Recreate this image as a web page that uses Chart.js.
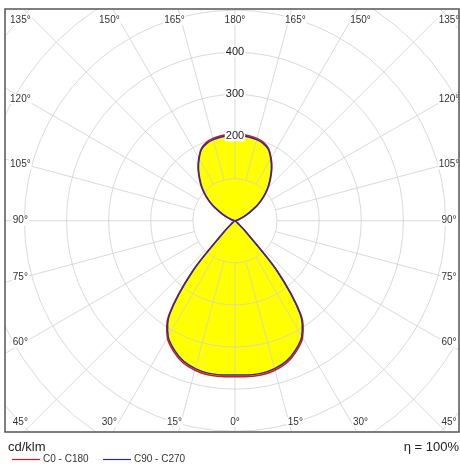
<!DOCTYPE html>
<html lang="en">
  <head>
    <meta charset="UTF-8" />
    <title>Luminous intensity distribution</title>
    <script src="https://cdn.jsdelivr.net/npm/chart.js"></script>
    <style>
      html, body { margin: 0; padding: 0; background: #fff; }
      .wrap { position: relative; width: 460px; height: 468px; }
    </style>
  </head>
  <body>
    <div class="wrap"><canvas id="ldc"></canvas></div>

    <script>
      // gamma angles (0 = straight down, 180 = straight up)
      var angles = [0, 5, 10, 15, 20, 25, 30, 35, 40, 45, 50, 55, 60, 65, 70, 75, 80, 85, 90,
                    95, 100, 105, 110, 115, 120, 125, 130, 135, 140, 145, 150, 155, 160, 165, 170, 175, 180];
      // cd/klm
      var c0c180 = [370, 371, 371, 367, 359, 343, 321, 274, 158, 34, 8, 4, 3, 2, 2, 2, 1, 1, 0,
                    1, 3, 6, 12, 25, 42, 67, 90, 112, 132, 153, 172, 189, 198, 202, 204, 205, 206];
      var c90c270 = [366, 367, 367, 363, 355, 339, 317, 270, 155, 32, 8, 4, 3, 2, 2, 2, 1, 1, 0,
                     1, 3, 6, 12, 24, 41, 66, 88, 110, 130, 151, 170, 187, 195, 199, 201, 202, 203];
      var seriesNames = ["C0 - C180", "C90 - C270"];
      var ringValues = [100, 200, 300, 400, 500, 600, 700, 800];
      var ringLabels = [200, 300, 400];
      var spokeAngles = [0, 15, 30, 45, 60, 75, 90, 105, 120, 135, 150, 165, 180];
      var unitText = "cd/klm";
      var efficiency = 100;

      // polar curve -> closed x/y outline (right half then mirrored left half)
      function outline(values) {
        var pts = [];
        for (var i = 0; i < angles.length; i++) {
          var a = angles[i] * Math.PI / 180;
          pts.push({ x: values[i] * Math.sin(a), y: -values[i] * Math.cos(a) });
        }
        for (var j = angles.length - 2; j >= 0; j--) {
          var b = angles[j] * Math.PI / 180;
          pts.push({ x: -values[j] * Math.sin(b), y: -values[j] * Math.cos(b) });
        }
        return pts;
      }

      var gridPlugin = {
        id: "polarGrid",
        afterDatasetDraw: function (chart, args) {
          if (args.index !== 2) return;
          var ctx = chart.ctx, ca = chart.chartArea;
          var xs = chart.scales.x, ys = chart.scales.y;
          var cx = xs.getPixelForValue(0), cy = ys.getPixelForValue(0);
          var k = xs.getPixelForValue(100) - cx;
          ctx.save();
          ctx.beginPath();
          ctx.rect(ca.left, ca.top, ca.right - ca.left, ca.bottom - ca.top);
          ctx.clip();
          ctx.strokeStyle = "rgba(205,205,205,0.75)";
          ctx.lineWidth = 1;
          ringValues.forEach(function (v) {
            ctx.beginPath();
            ctx.arc(cx, cy, v / 100 * k, 0, Math.PI * 2);
            ctx.stroke();
          });
          for (var a = 0; a < 360; a += 15) {
            var t = a * Math.PI / 180;
            var dx = Math.sin(t), dy = Math.cos(t);
            ctx.beginPath();
            ctx.moveTo(cx + dx * k, cy + dy * k);
            ctx.lineTo(cx + dx * k * 10, cy + dy * k * 10);
            ctx.stroke();
          }
          ctx.restore();
        },
        afterDraw: function (chart) {
          var ctx = chart.ctx, ca = chart.chartArea;
          var xs = chart.scales.x, ys = chart.scales.y;
          var cx = xs.getPixelForValue(0);
          ctx.save();
          ctx.textAlign = "center";
          ctx.textBaseline = "middle";

          // ring values along the 180° line
          ctx.font = '11px "Liberation Sans", Arial, sans-serif';
          ringLabels.forEach(function (v) {
            var py = ys.getPixelForValue(v);
            var w = ctx.measureText(String(v)).width + 2;
            ctx.fillStyle = "#fff";
            ctx.fillRect(cx - w / 2, py - 5, w, 10);
            ctx.fillStyle = "#222";
            ctx.fillText(String(v), cx, py);
          });

          // angle labels where the spokes meet the 500 square
          ctx.font = '10px "Liberation Sans", Arial, sans-serif';
          [1, -1].forEach(function (side) {
            spokeAngles.forEach(function (g) {
              if (side === -1 && (g === 0 || g === 180)) return;
              var t = g * Math.PI / 180;
              var dx = side * Math.sin(t), dy = -Math.cos(t);
              if (Math.abs(dx) < 1e-9) dx = 0;
              var s = 500 / Math.max(Math.abs(dx), Math.abs(dy));
              var px = xs.getPixelForValue(s * dx) + 4 * Math.sign(dx);
              var py = ys.getPixelForValue(s * dy);
              px = Math.min(Math.max(px, ca.left + 15), ca.right - 10);
              py = Math.min(Math.max(py, ca.top + 11), ca.bottom - 10);
              var txt = g + "\u00b0";
              var w = ctx.measureText(txt).width + 2;
              ctx.fillStyle = "#fff";
              ctx.fillRect(px - w / 2, py - 5, w, 10);
              ctx.fillStyle = "#333";
              ctx.fillText(txt, px, py);
            });
          });

          // frame
          ctx.strokeStyle = "#555";
          ctx.lineWidth = 1.5;
          ctx.strokeRect(ca.left, ca.top, ca.right - ca.left, ca.bottom - ca.top);

          // unit, efficiency and legend under the frame
          ctx.textAlign = "left";
          ctx.fillStyle = "#222";
          ctx.font = '13px "Liberation Sans", Arial, sans-serif';
          ctx.fillText(unitText, ca.left + 3, ca.bottom + 15);
          ctx.textAlign = "right";
          ctx.fillText("\u03b7 = " + efficiency + "%", ca.right, ca.bottom + 15);

          ctx.textAlign = "left";
          ctx.font = '10px "Liberation Sans", Arial, sans-serif';
          var ly = ca.bottom + 27.5;
          var items = [
            { name: seriesNames[0], color: chart.data.datasets[1].borderColor, x: ca.left + 7 },
            { name: seriesNames[1], color: chart.data.datasets[0].borderColor, x: ca.left + 98 }
          ];
          items.forEach(function (it) {
            ctx.strokeStyle = it.color;
            ctx.lineWidth = 1.2;
            ctx.beginPath();
            ctx.moveTo(it.x, ly);
            ctx.lineTo(it.x + 28, ly);
            ctx.stroke();
            ctx.fillStyle = "#333";
            ctx.fillText(it.name, it.x + 31, ly);
          });
          ctx.restore();
        }
      };

      var chart = new Chart(document.getElementById("ldc"), {
        type: "scatter",
        data: {
          datasets: [
            {
              label: seriesNames[1],
              data: outline(c90c270),
              showLine: true,
              tension: 0.3,
              borderColor: "#2a2aa8",
              borderWidth: 1.5,
              pointRadius: 0,
              fill: false
            },
            {
              label: seriesNames[0],
              data: outline(c0c180),
              showLine: true,
              tension: 0.3,
              borderColor: "#d81818",
              borderWidth: 1.5,
              pointRadius: 0,
              fill: false
            },
            {
              label: "fill",
              data: outline(c0c180),
              showLine: true,
              tension: 0.3,
              borderWidth: 0,
              borderColor: "rgba(0,0,0,0)",
              backgroundColor: "#ffff00",
              pointRadius: 0,
              fill: "shape"
            }
          ]
        },
        options: {
          responsive: true,
          maintainAspectRatio: false,
          animation: false,
          layout: { padding: { left: 5, right: 1, top: 9, bottom: 36 } },
          scales: {
            x: { type: "linear", min: -546, max: 532, display: false },
            y: { type: "linear", min: -501, max: 502, display: false }
          },
          plugins: {
            legend: { display: false },
            tooltip: { enabled: false }
          }
        },
        plugins: [gridPlugin]
      });
    </script>
  </body>
</html>
